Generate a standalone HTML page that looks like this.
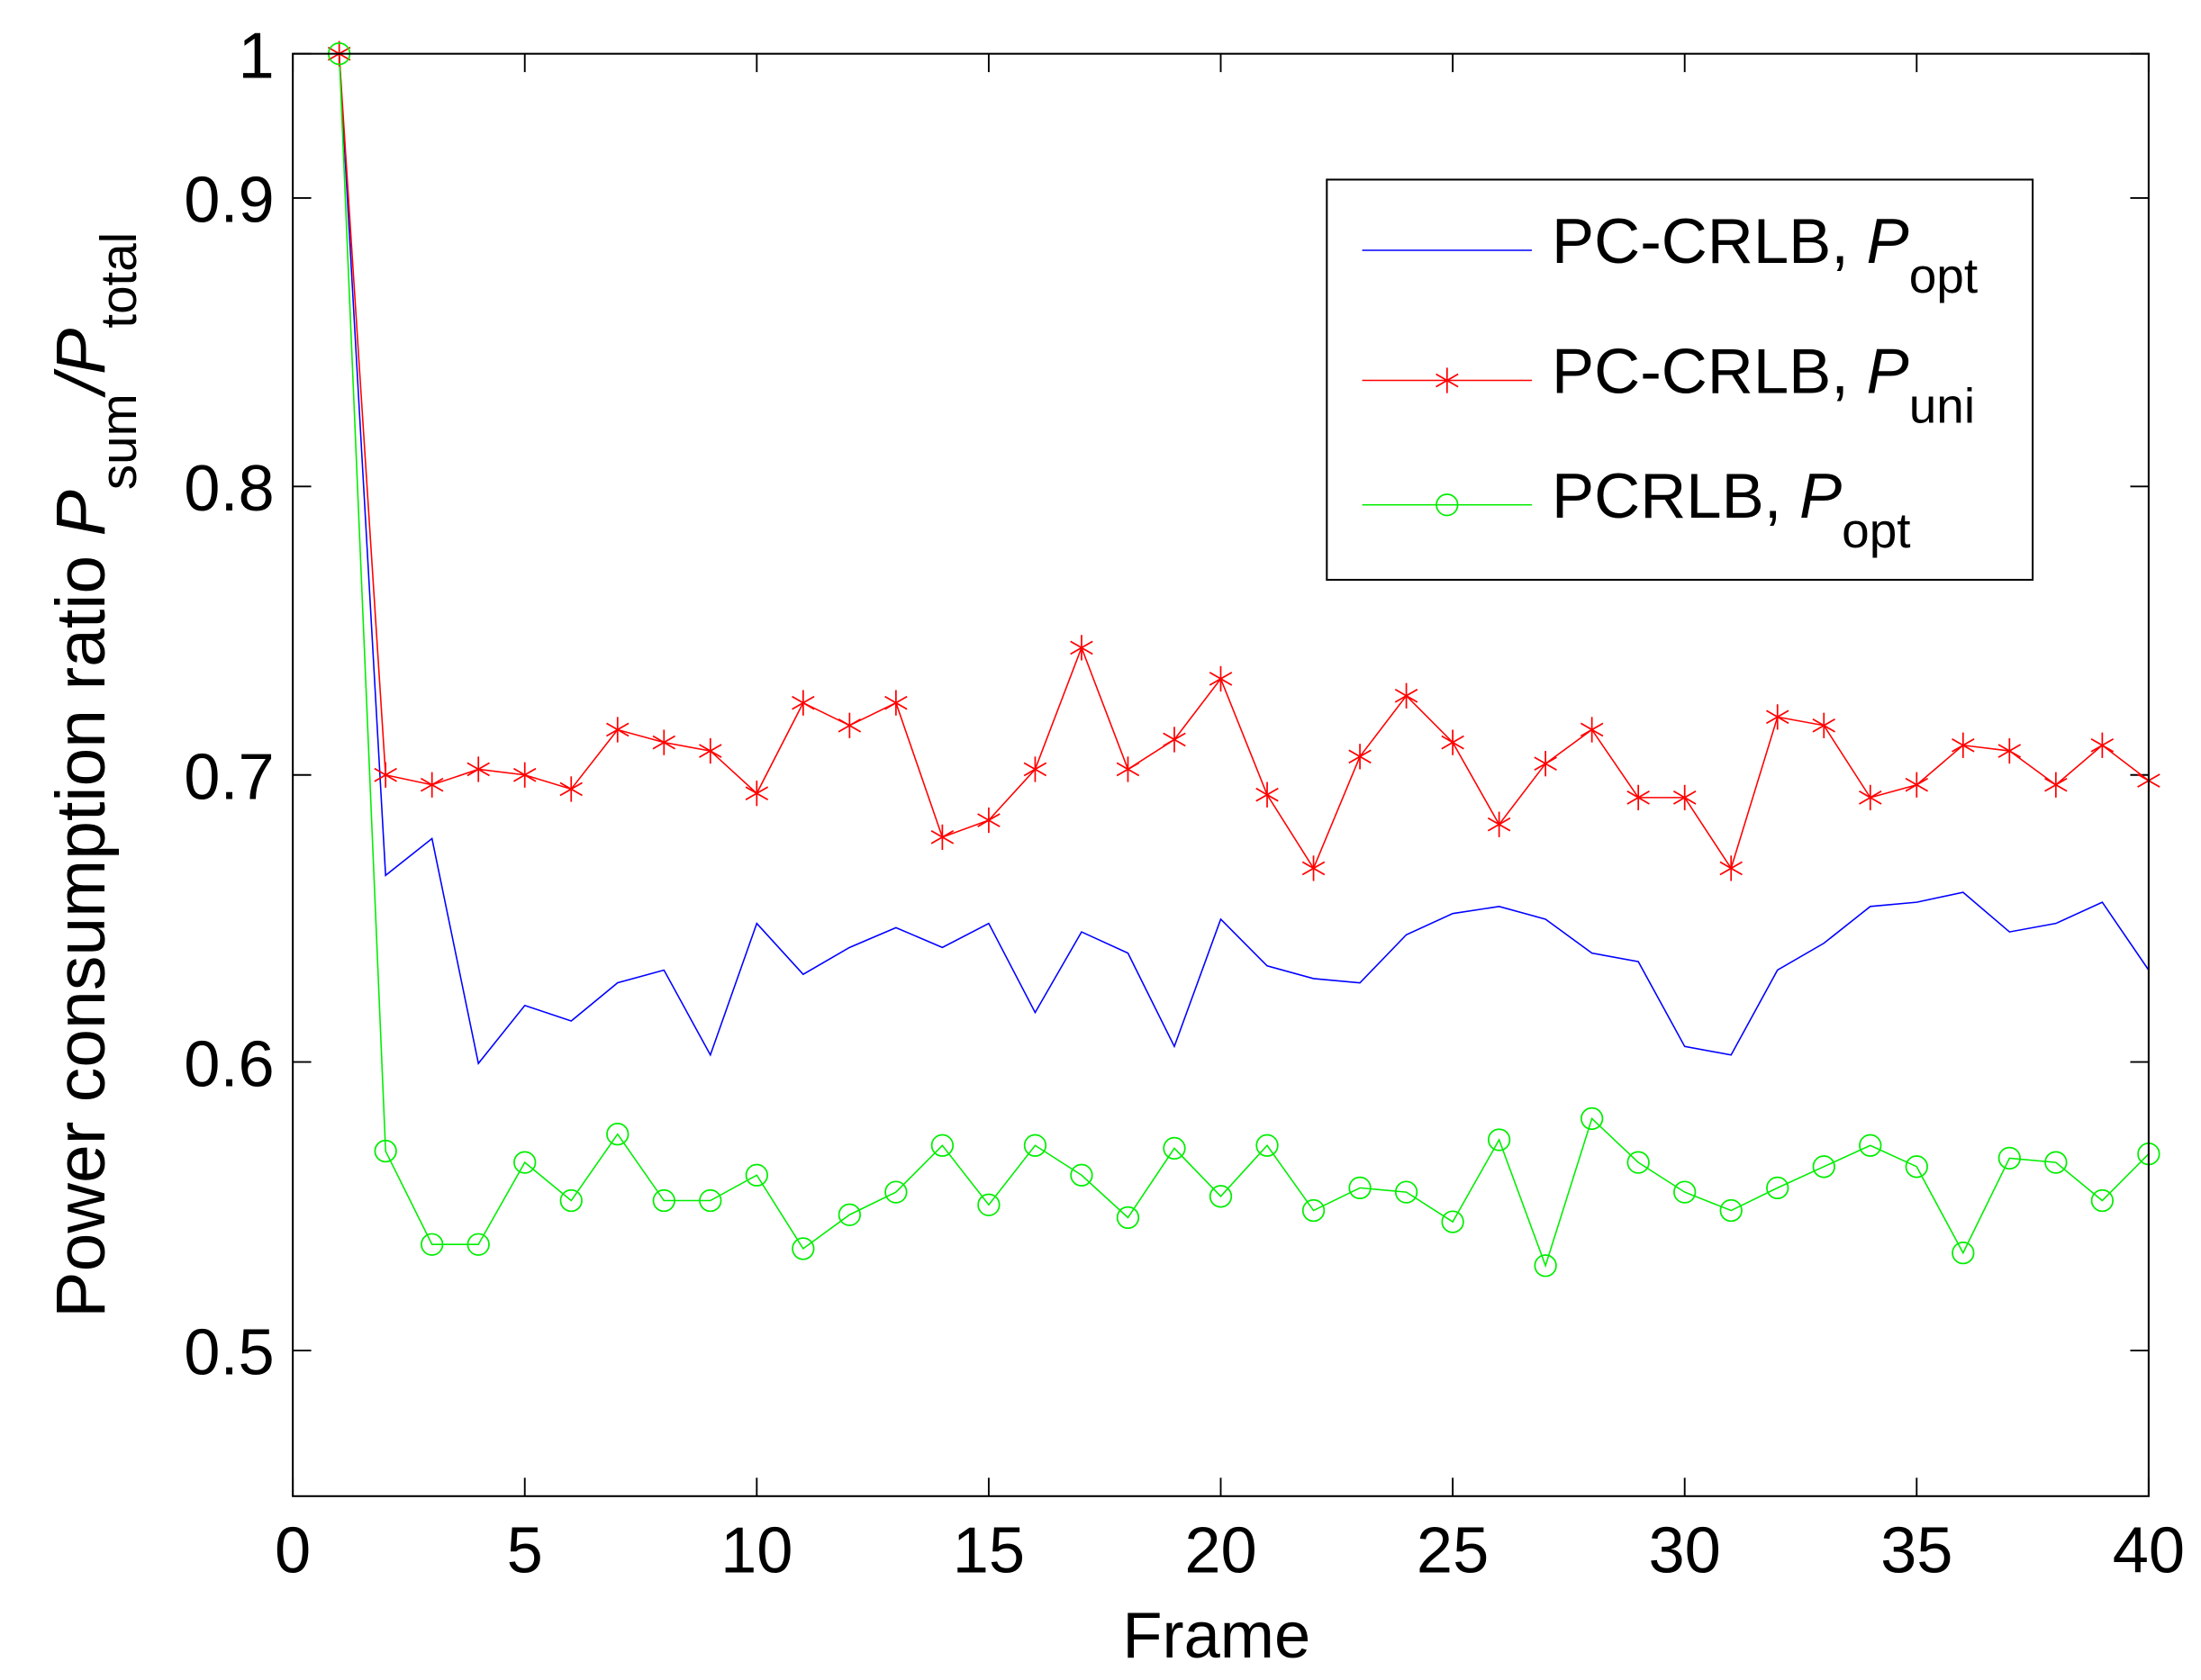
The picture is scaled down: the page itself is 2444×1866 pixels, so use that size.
<!DOCTYPE html>
<html><head><meta charset="utf-8"><style>
html,body{margin:0;padding:0;background:#fff;}
svg{display:block;}
text{font-family:"Liberation Sans",Arial,sans-serif;fill:#000;}
</style></head><body>
<svg id="s" width="2444" height="1866" viewBox="0 0 1556 1188" xmlns="http://www.w3.org/2000/svg">
<rect x="0" y="0" width="1556" height="1188" fill="#fff"/>
<g id="ax"></g>
<g id="data"></g>
<rect x="207" y="38" width="1312" height="1020" fill="none" stroke="#000" stroke-width="1.3"/>
<!-- legend -->
<rect x="938" y="127" width="499" height="283" fill="#fff" stroke="#000" stroke-width="1.3"/>
<line x1="963" y1="177" x2="1083" y2="177" stroke="#0000ff" stroke-width="1"/>
<line x1="963" y1="269" x2="1083" y2="269" stroke="#ff0000" stroke-width="1"/>
<line x1="963" y1="357" x2="1083" y2="357" stroke="#00ee00" stroke-width="1"/>
<g id="legm"></g>
<text x="1097" y="186" font-size="45">PC-CRLB, <tspan font-style="italic">P</tspan><tspan font-size="35" dy="21">opt</tspan></text>
<text x="1097" y="278" font-size="45">PC-CRLB, <tspan font-style="italic">P</tspan><tspan font-size="35" dy="21">uni</tspan></text>
<text x="1097" y="366" font-size="45">PCRLB, <tspan font-style="italic">P</tspan><tspan font-size="35" dy="21">opt</tspan></text>
<text x="860" y="1172" font-size="46" text-anchor="middle">Frame</text>
<text transform="translate(74,548) rotate(-90)" font-size="49" text-anchor="middle">Power consumption ratio <tspan font-style="italic">P</tspan><tspan font-size="36" dy="22">sum</tspan><tspan dy="-22" font-style="italic">/P</tspan><tspan font-size="36" dy="22">total</tspan></text>
</svg>
<script>
var NS="http://www.w3.org/2000/svg";
function el(p,t,a,txt){var e=document.createElementNS(NS,t);for(var k in a)e.setAttribute(k,a[k]);if(txt!==undefined)e.textContent=txt;p.appendChild(e);return e;}
var ax=document.getElementById('ax'),dg=document.getElementById('data'),lg=document.getElementById('legm');
function X(i){return 207+32.8*i;}
for(var i=0;i<=40;i+=5){var x=X(i);
 el(ax,'line',{x1:x,y1:1058,x2:x,y2:1045,stroke:'#000','stroke-width':1.2});
 el(ax,'line',{x1:x,y1:38,x2:x,y2:51,stroke:'#000','stroke-width':1.2});
 el(ax,'text',{x:x,y:1112,'font-size':46,'text-anchor':'middle'},String(i));}
var yt=[[0.5,955],[0.6,751],[0.7,548],[0.8,344],[0.9,140],[1,38]];
yt.forEach(function(t){
 el(ax,'line',{x1:207,y1:t[1],x2:220,y2:t[1],stroke:'#000','stroke-width':1.2});
 el(ax,'line',{x1:1519,y1:t[1],x2:1506,y2:t[1],stroke:'#000','stroke-width':1.2});
 el(ax,'text',{x:194,y:t[1]+17,'font-size':46,'text-anchor':'end'},String(t[0]));});
var red=[38,548,555,544,548,558,516,525,531,561,497,513,497,592,580,544,458,544,523,480,562,614,535,492,525,583,540,516,564,564,614,507,513,564,555,527,531,555,527,552];
var blue=[38,619,593,752,711,722,695,686,746,653,689,670,656,670,653,716,659,674,740,650,683,692,695,661,646,641,650,674,680,740,746,686,667,641,638,631,659,653,638,686];
var green=[38,814,880,880,822,849,802,849,849,831,883,859,843,810,852,810,831,861,812,846,810,856,840,843,864,806,895,791,822,843,856,840,825,810,825,886,819,822,849,816];
function pts(a){return a.map(function(y,i){return X(i+1)+','+y;}).join(' ');}
el(dg,'polyline',{points:pts(blue),fill:'none',stroke:'#0000ff','stroke-width':1});
el(dg,'polyline',{points:pts(red),fill:'none',stroke:'#ff0000','stroke-width':1});
el(dg,'polyline',{points:pts(green),fill:'none',stroke:'#00ee00','stroke-width':1});
function star(p,x,y){var r=9,c='#ff0000';
 el(p,'line',{x1:x,y1:y-r,x2:x,y2:y+r,stroke:c,'stroke-width':1.1});
 el(p,'line',{x1:x-r*0.87,y1:y-r*0.5,x2:x+r*0.87,y2:y+r*0.5,stroke:c,'stroke-width':1.1});
 el(p,'line',{x1:x-r*0.87,y1:y+r*0.5,x2:x+r*0.87,y2:y-r*0.5,stroke:c,'stroke-width':1.1});}
red.forEach(function(y,i){star(dg,X(i+1),y);});
green.forEach(function(y,i){el(dg,'circle',{cx:X(i+1),cy:y,r:7.5,fill:'none',stroke:'#00ee00','stroke-width':1.1});});
star(lg,1023,269);
el(lg,'circle',{cx:1023,cy:357,r:7.5,fill:'none',stroke:'#00ee00','stroke-width':1.1});
</script>
</body></html>
